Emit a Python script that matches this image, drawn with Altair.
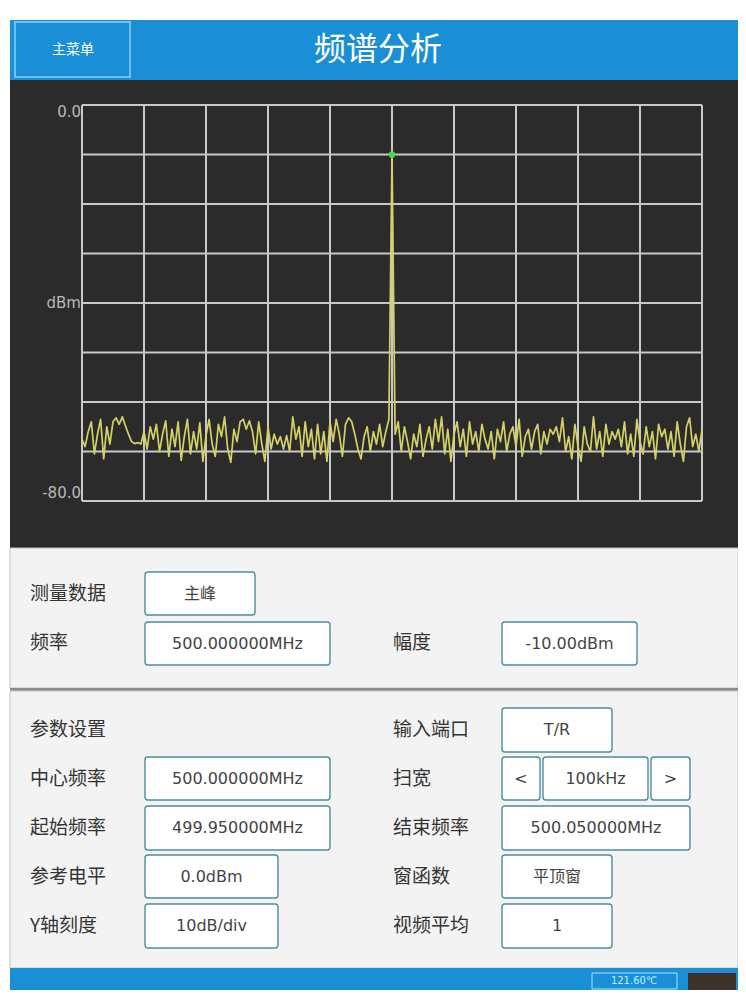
import altair as alt
import pandas as pd

# ---------------- chart values ----------------
start_mhz = 499.95
stop_mhz = 500.05
trace_dbm = [
    -67.5, -69.0, -66.0, -64.0, -70.5, -66.5, -63.5, -71.5, -65.0, -68.5,
    -64.0, -63.2, -64.5, -63.0, -64.8, -66.5, -68.0, -68.4, -68.2, -68.5,
    -66.0, -69.5, -65.0, -67.5, -64.5, -70.0, -66.5, -63.8, -71.0, -65.5,
    -69.0, -64.0, -71.8, -67.0, -63.5, -70.5, -66.0, -69.5, -64.2, -72.0,
    -66.8, -63.5, -68.5, -71.0, -64.5, -67.0, -63.0, -69.5, -72.2, -65.5,
    -68.0, -64.0, -63.5, -65.5, -63.8, -66.0, -70.5, -64.0, -68.5, -72.0,
    -65.0, -69.5, -66.5, -68.5, -67.0, -69.5, -66.8, -70.0, -63.0, -67.5,
    -65.0, -71.0, -64.0, -69.0, -65.5, -71.5, -64.5, -70.5, -66.0, -72.0,
    -64.0, -68.0, -63.5, -66.5, -71.0, -64.5, -63.2, -64.0, -66.5, -69.5,
    -71.5, -67.0, -65.0, -70.0, -66.0, -68.5, -64.5, -69.0, -66.0, -63.5,
    -10.0,
    -66.5, -64.0, -70.0, -65.0, -68.0, -71.5, -66.5, -69.0, -64.5, -71.0,
    -67.5, -65.0, -69.5, -63.5, -68.0, -63.0, -70.5, -65.5, -72.0, -66.5,
    -64.0, -69.0, -65.5, -71.0, -64.0, -68.5, -66.0, -70.0, -64.5, -67.5,
    -69.5, -66.0, -71.5, -65.5, -68.0, -64.0, -70.0, -66.5, -65.0, -69.0,
    -63.5, -71.0, -67.0, -65.5, -69.5, -66.0, -64.5, -70.5, -66.0, -68.5,
    -65.5, -66.5, -65.0, -68.0, -63.2, -70.0, -67.0, -71.5, -64.5, -69.0,
    -72.0, -65.0, -68.5, -70.0, -63.0, -69.5, -66.0, -71.0, -64.5, -68.5,
    -66.0, -67.5, -65.5, -69.0, -64.0, -70.5, -66.5, -71.0, -63.5, -68.0,
    -70.5, -65.0, -69.0, -66.0, -71.5, -64.5, -67.0, -65.5, -69.5, -66.0,
    -71.0, -64.0, -68.5, -72.0, -65.0, -63.2, -69.0, -66.5, -70.0, -65.5,
]
peak_mhz = 500.0
peak_dbm = -10.0
grid_mhz = [499.95, 499.96, 499.97, 499.98, 499.99, 500.00,
            500.01, 500.02, 500.03, 500.04, 500.05]
grid_dbm = [0, -10, -20, -30, -40, -50, -60, -70, -80]
ylabel_dbm = [0, -40, -80]
ylabel_text = ["0.0", "dBm", "-80.0"]

title_text = "频谱分析"
menu_text = "主菜单"
meas_labels = ["测量数据", "频率", "幅度"]
meas_values = ["主峰", "500.000000MHz", "-10.00dBm"]
left_labels = ["参数设置", "中心频率", "起始频率", "参考电平", "Y轴刻度"]
left_values = ["500.000000MHz", "499.950000MHz", "0.0dBm", "10dB/div"]
right_labels = ["输入端口", "扫宽", "结束频率", "窗函数", "视频平均"]
right_values = ["T/R", "100kHz", "500.050000MHz", "平顶窗", "1"]
sweep_arrows = ["<", ">"]
temperature = "121.60℃"

# ---------------- layout / style ----------------
W, H = 730, 982
BLUE = "#1b8fd6"
DARK = "#2b2b2b"
GRID = "#c8c8c8"
TRACE = "#d4d264"
MARK = "#3fd84a"
LIGHT = "#f3f3f3"
LABEL = "#333333"
CJK = "Noto Sans CJK SC"
LATIN = "DejaVu Sans, Noto Sans CJK SC"

XS = alt.Scale(domain=[start_mhz, stop_mhz], range=[74, 694], nice=False, zero=False)
YS = alt.Scale(domain=[-80, 0], range=[493, 97], nice=False, zero=False)

n = len(trace_dbm)
trace = pd.DataFrame({
    "mhz": [start_mhz + i * (stop_mhz - start_mhz) / (n - 1) for i in range(n)],
    "dbm": trace_dbm,
})

panels = pd.DataFrame([
    dict(x0=2, x1=730, y0=12, y1=72, fill=BLUE, stroke=BLUE, sw=0),
    dict(x0=2, x1=730, y0=72, y1=540, fill=DARK, stroke=DARK, sw=0),
    dict(x0=2, x1=730, y0=540, y1=680, fill=LIGHT, stroke="#c4c4c4", sw=1),
    dict(x0=2, x1=730, y0=680, y1=683, fill="#8c8c8c", stroke="#8c8c8c", sw=0),
    dict(x0=2, x1=730, y0=683, y1=960, fill=LIGHT, stroke="#c4c4c4", sw=1),
    dict(x0=2, x1=730, y0=960, y1=982, fill=BLUE, stroke=BLUE, sw=0),
    dict(x0=680, x1=728, y0=965, y1=982, fill="#3d3128", stroke="#3d3128", sw=0),
])

def rect_layer(df, **kw):
    return alt.Chart(df).mark_rect(**kw).encode(
        x=alt.X("x0:Q", scale=None, axis=None), x2="x1:Q",
        y=alt.Y("y0:Q", scale=None, axis=None), y2="y1:Q",
        fill=alt.Fill("fill:N", scale=None),
        stroke=alt.Stroke("stroke:N", scale=None),
        strokeWidth=alt.StrokeWidth("sw:Q", scale=None),
    )

# form boxes (x0, x1, y0, y1)
box_geom_meas = [(137, 247, 564, 607), (137, 322, 614, 657), (494, 629, 614, 657)]
box_geom_left = [(137, 322, 749, 792), (137, 322, 798, 842), (137, 270, 847, 890), (137, 270, 896, 940)]
box_geom_right = [(494, 604, 700, 744), (535, 640, 749, 792), (494, 682, 798, 842),
                  (494, 604, 847, 890), (494, 604, 896, 940)]
box_geom_arrows = [(494, 532, 749, 792), (643, 682, 749, 792)]

rows = []
for t, g in zip(meas_values, box_geom_meas):
    rows.append((t,) + g)
for t, g in zip(left_values, box_geom_left):
    rows.append((t,) + g)
for t, g in zip(right_values, box_geom_right):
    rows.append((t,) + g)
for t, g in zip(sweep_arrows, box_geom_arrows):
    rows.append((t,) + g)
boxes = pd.DataFrame(rows, columns=["t", "x0", "x1", "y0", "y1"])
boxes["x"] = (boxes.x0 + boxes.x1) / 2
boxes["y"] = (boxes.y0 + boxes.y1) / 2
boxes["fill"] = "#ffffff"
boxes["stroke"] = "#4d8d9e"
boxes["sw"] = 1.4

menu_box = pd.DataFrame([dict(x0=7, x1=122, y0=14, y1=69, fill=BLUE, stroke="#6cc2f2", sw=2)])
temp_box = pd.DataFrame([dict(x0=584, x1=669, y0=965, y1=981, fill=BLUE, stroke="#a8e6fb", sw=1)])

lab_rows = []
for t, p in zip(meas_labels, [(22, 586), (22, 635), (385, 635)]):
    lab_rows.append((t,) + p)
row_y = [722, 771, 820, 869, 918]
for t, yy in zip(left_labels, row_y):
    lab_rows.append((t, 22, yy))
for t, yy in zip(right_labels, row_y):
    lab_rows.append((t, 385, yy))
labels = pd.DataFrame(lab_rows, columns=["t", "x", "y"])

def text_layer(df, **kw):
    return alt.Chart(df).mark_text(**kw).encode(
        x=alt.X("x:Q", scale=None, axis=None),
        y=alt.Y("y:Q", scale=None, axis=None),
        text="t:N",
    )

layers = [
    rect_layer(panels),
    rect_layer(menu_box),
    rect_layer(temp_box),
    text_layer(pd.DataFrame([dict(t=menu_text, x=65, y=42)]),
               font=CJK, fontSize=14, color="#ffffff", align="center", baseline="middle"),
    text_layer(pd.DataFrame([dict(t=title_text, x=370, y=42)]),
               font=CJK, fontSize=32, color="#ffffff", align="center", baseline="middle"),
    text_layer(pd.DataFrame([dict(t=temperature, x=626, y=973)]),
               font=LATIN, fontSize=10, color="#bdefff", align="center", baseline="middle"),
]

# spectrum grid
vgrid = alt.Chart(pd.DataFrame({"mhz": grid_mhz})).mark_rule(color=GRID, strokeWidth=2).encode(
    x=alt.X("mhz:Q", scale=XS, axis=None),
    y=alt.YDatum(-80, scale=YS, axis=None),
    y2=alt.Y2Datum(0),
)
hgrid = alt.Chart(pd.DataFrame({"dbm": grid_dbm})).mark_rule(color=GRID, strokeWidth=2).encode(
    y=alt.Y("dbm:Q", scale=YS, axis=None),
    x=alt.XDatum(start_mhz, scale=XS, axis=None),
    x2=alt.X2Datum(stop_mhz),
)
line = alt.Chart(trace).mark_line(color=TRACE, strokeWidth=1.7, strokeJoin="round").encode(
    x=alt.X("mhz:Q", scale=XS, axis=None),
    y=alt.Y("dbm:Q", scale=YS, axis=None),
)
peak = alt.Chart(pd.DataFrame({"mhz": [peak_mhz], "dbm": [peak_dbm]})).mark_point(
    filled=True, color=MARK, size=45, shape="circle", opacity=1).encode(
    x=alt.X("mhz:Q", scale=XS, axis=None),
    y=alt.Y("dbm:Q", scale=YS, axis=None),
)
layers += [vgrid, hgrid, line, peak]

for v, t, base in zip(ylabel_dbm, ylabel_text, ["top", "middle", "bottom"]):
    layers.append(
        alt.Chart(pd.DataFrame({"dbm": [v], "t": [t]})).mark_text(
            font="DejaVu Sans", fontSize=15, color="#b8b8b8", align="right", baseline=base
        ).encode(
            y=alt.Y("dbm:Q", scale=YS, axis=None),
            x=alt.value(73),
            text="t:N",
        )
    )

# form
layers += [
    rect_layer(boxes, cornerRadius=3),
    text_layer(boxes, font=LATIN, fontSize=16, color="#444444", align="center", baseline="middle"),
    text_layer(labels, font=CJK, fontSize=19, color=LABEL, align="left", baseline="middle"),
]

chart = alt.layer(*layers).resolve_scale(x="independent", y="independent").properties(
    width=W, height=H, padding=0,
    autosize=alt.AutoSizeParams(type="none"),
    background="#ffffff",
).configure_view(strokeWidth=0)

chart.save("out.html", embed_options={"renderer": "svg", "actions": False})
